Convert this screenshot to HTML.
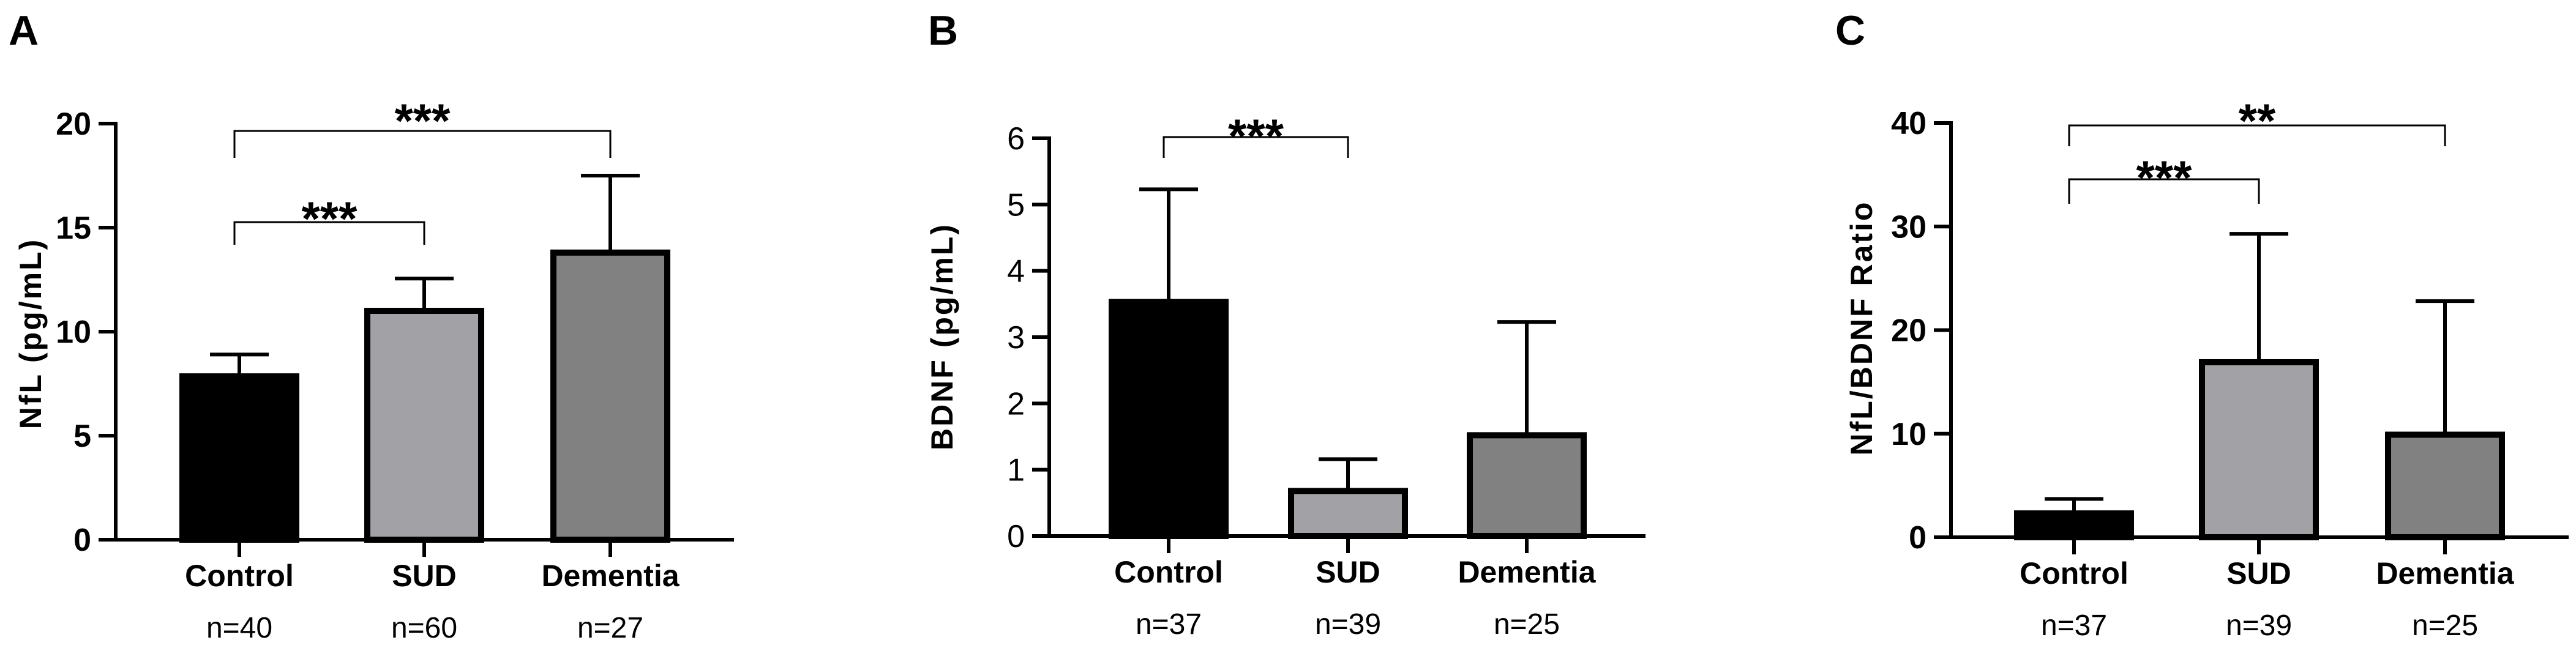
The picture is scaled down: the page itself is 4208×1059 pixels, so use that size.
<!DOCTYPE html>
<html><head><meta charset="utf-8"><style>
html,body{margin:0;padding:0;background:#fff;}
svg{display:block;font-family:"Liberation Sans Narrow","Liberation Sans",sans-serif;}
</style></head><body>
<svg id="fig" width="4208" height="1059" viewBox="0 0 4208 1059" xmlns="http://www.w3.org/2000/svg"></svg>
<script>
const categories = ["Control","SUD","Dementia"];
const fills = ["#000000","#a2a1a6","#818181"];
const nfl_mean = [7.85, 11.0, 13.8];
const nfl_err = [8.9, 12.55, 17.5];
const nfl_n = ["n=40","n=60","n=27"];
const nfl_ticks = [0,5,10,15,20];
const bdnf_mean = [3.53, 0.68, 1.52];
const bdnf_err = [5.23, 1.16, 3.23];
const bdnf_n = ["n=37","n=39","n=25"];
const bdnf_ticks = [0,1,2,3,4,5,6];
const ratio_mean = [2.3, 16.9, 9.9];
const ratio_err = [3.7, 29.3, 22.8];
const ratio_n = ["n=37","n=39","n=25"];
const ratio_ticks = [0,10,20,30,40];

const NS="http://www.w3.org/2000/svg";
const svg=document.getElementById('fig');
function mk(tag,attrs,parent,text){const e=document.createElementNS(NS,tag);for(const k in attrs)e.setAttribute(k,attrs[k]);if(text!==undefined)e.textContent=text;(parent||svg).appendChild(e);return e;}

const panels=[
 {letter:"A",lx:14,ax:189,xEnd:1199,y0:882,yTop:202,max:20,ticks:nfl_ticks,mean:nfl_mean,err:nfl_err,n:nfl_n,centers:[391,693,997],title:"NfL (pg/mL)",tx:49,ty:545,tickBold:true,
  brackets:[{a:0,b:1,y:363,drop:400,sy:340,s:"***"},{a:0,b:2,y:214,drop:258,sy:180,s:"***"}]},
 {letter:"B",lx:1516,ax:1714,xEnd:2688,y0:876,yTop:226,max:6,ticks:bdnf_ticks,mean:bdnf_mean,err:bdnf_err,n:bdnf_n,centers:[1909,2202,2494],title:"BDNF (pg/mL)",tx:1538,ty:550,tickBold:false,
  brackets:[{a:0,b:1,y:224,drop:258,sy:205,s:"***"}]},
 {letter:"C",lx:2998,ax:3187,xEnd:4196,y0:878,yTop:201,max:40,ticks:ratio_ticks,mean:ratio_mean,err:ratio_err,n:ratio_n,centers:[3388,3690,3994],title:"NfL/BDNF Ratio",tx:3040,ty:536,tickBold:true,
  brackets:[{a:0,b:1,y:293,drop:333,sy:273,s:"***"},{a:0,b:2,y:205,drop:239,sy:180,s:"**"}]}
];

panels.forEach((p,pi)=>{
 const g=mk('g',{});
 
 
 const Y=v=>p.y0-(v/p.max)*(p.y0-p.yTop);
 const lt=mk('text',{x:p.lx,y:73,'font-size':68,'font-weight':'bold','font-family':'Liberation Sans,sans-serif'},g,p.letter);
 
 
 p.mean.forEach((m,i)=>{
  const cx=p.centers[i], w=186;
  const top=Y(m);
  const b=mk('rect',{x:cx-w/2,y:top,width:w,height:p.y0-top,fill:fills[i],stroke:'#000','stroke-width':10},g);
  
  
  const e=mk('path',{d:`M${cx} ${top} V${Y(p.err[i])} M${cx-48} ${Y(p.err[i])} H${cx+48}`,stroke:'#000','stroke-width':6,fill:'none'},g);
  
  
  const tk=mk('line',{x1:cx,y1:p.y0,x2:cx,y2:p.y0+28,stroke:'#000','stroke-width':6},g);
  
  
  const cl=mk('text',{x:cx,y:p.y0+76,'text-anchor':'middle','font-size':50,'font-weight':'bold'},g,categories[i]);
  
  
  const nl=mk('text',{x:cx,y:p.y0+160,'text-anchor':'middle','font-size':48},g,p.n[i]);
  
  
 });
 const ya=mk('line',{x1:p.ax,y1:p.yTop-3,x2:p.ax,y2:p.y0+3,stroke:'#000','stroke-width':6},g);
 
 
 const xa=mk('line',{x1:p.ax-28,y1:p.y0,x2:p.xEnd,y2:p.y0,stroke:'#000','stroke-width':6},g);
 
 
 p.ticks.forEach(t=>{
  const yt=mk('line',{x1:p.ax-28,y1:Y(t),x2:p.ax,y2:Y(t),stroke:'#000','stroke-width':6},g);
  
  
  const tl=mk('text',{x:p.ax-40,y:Y(t)+18,'text-anchor':'end','font-size':52,'font-weight':p.tickBold?'bold':'normal'},g,String(t));
  
  
 });
 const tt=mk('text',{x:p.tx,y:p.ty,'text-anchor':'middle','font-size':50,'font-weight':'bold','letter-spacing':3,transform:`rotate(-90 ${p.tx} ${p.ty})`,dy:18},g,p.title);
 
 
 p.brackets.forEach(br=>{
  const x1=p.centers[br.a]-8, x2=p.centers[br.b];
  const bp=mk('path',{d:`M${x1} ${br.drop} V${br.y} H${x2} V${br.drop}`,stroke:'#000','stroke-width':3,fill:'none'},g);
  
  
  const st=mk('text',{x:(x1+x2)/2,y:br.sy+44,'text-anchor':'middle','font-size':78,'font-weight':'bold','font-family':'Liberation Sans,sans-serif'},g,br.s);
  
  
 });
});
</script>
</body></html>
